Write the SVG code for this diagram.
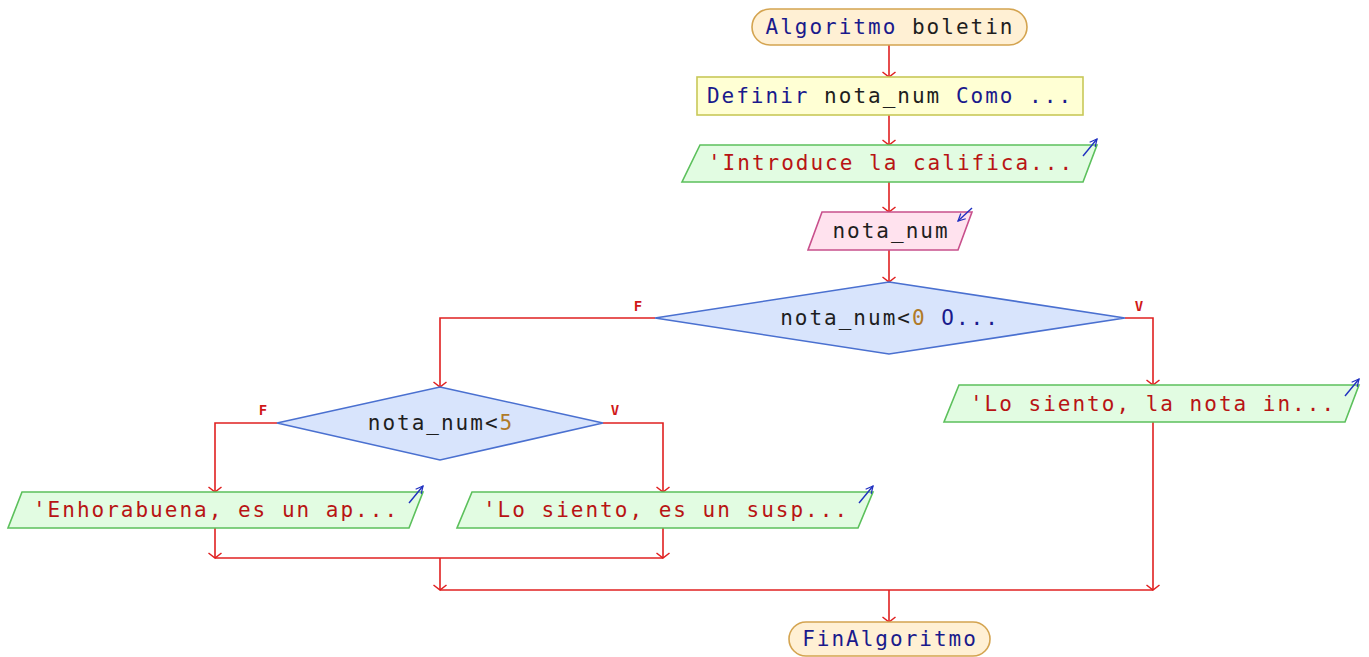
<svg xmlns="http://www.w3.org/2000/svg" width="1369" height="657" viewBox="0 0 1369 657">
  <defs>
    <marker id="arr" viewBox="0 0 12 14" refX="10" refY="7" markerWidth="12" markerHeight="14" markerUnits="userSpaceOnUse" orient="auto">
      <path d="M5,0.5 L10,7 L5,13.5" fill="none" stroke="#e02020" stroke-width="1.5"/>
    </marker>
    <marker id="io" viewBox="0 0 10 10" refX="9" refY="5" markerWidth="9" markerHeight="9" markerUnits="userSpaceOnUse" orient="auto">
      <path d="M1,1 L9,5 L1,9" fill="none" stroke="#2030c0" stroke-width="1.4"/>
    </marker>
  </defs>
  <style>
    text { font-family: "DejaVu Sans Mono", "Liberation Mono", monospace; font-size: 21px; letter-spacing: 2px; text-anchor: middle; }
    .kw { fill: #1a1a8c; }
    .id { fill: #1e1e1e; }
    .str { fill: #b81414; }
    .num { fill: #b07a28; }
    .lbl { font-size: 14px; letter-spacing: 0; fill: #d01818; font-weight: bold; }
    .term { fill: #fff0d4; stroke: #d4a450; stroke-width: 1.6; }
    .def { fill: #ffffd4; stroke: #c8c858; stroke-width: 1.6; }
    .out { fill: #e2fce2; stroke: #5cc05c; stroke-width: 1.6; }
    .inp { fill: #ffe2ee; stroke: #c8508c; stroke-width: 1.6; }
    .dec { fill: #d8e4fc; stroke: #4a70d0; stroke-width: 1.6; }
    .icon { fill: none; stroke: #2030c0; stroke-width: 1.4; marker-end: url(#io); }
    .wire { fill: none; stroke: #e02020; stroke-width: 1.6; }
    .go { marker-end: url(#arr); }
  </style>

  <rect width="1369" height="657" fill="#ffffff"/>

  <!-- connectors -->
  <g id="connectors">
    <path class="wire go" d="M889,45 V77"/>
    <path class="wire go" d="M889,115 V145"/>
    <path class="wire go" d="M889,182 V212"/>
    <path class="wire go" d="M889,250 V282"/>
    <path class="wire go" d="M655,318 H440 V387"/>
    <path class="wire go" d="M1125,318 H1153 V385"/>
    <path class="wire go" d="M277,423 H215 V492"/>
    <path class="wire go" d="M603,423 H663 V492"/>
    <path class="wire go" d="M215,528 V558"/>
    <path class="wire go" d="M663,528 V558"/>
    <path class="wire" d="M215,558 H663"/>
    <path class="wire go" d="M440,558 V590"/>
    <path class="wire go" d="M1153,422 V590"/>
    <path class="wire" d="M440,590 H1153"/>
    <path class="wire go" d="M889,590 V622"/>
    <text class="lbl" x="638" y="311">F</text>
    <text class="lbl" x="1139" y="311">V</text>
    <text class="lbl" x="263" y="415">F</text>
    <text class="lbl" x="615" y="415">V</text>
  </g>

  <!-- start -->
  <g id="start">
    <rect class="term" x="752" y="9" width="275" height="36" rx="18"/>
    <text x="890" y="34"><tspan class="kw">Algoritmo</tspan><tspan class="id"> boletin</tspan></text>
  </g>

  <!-- declaration -->
  <g id="definir">
    <rect class="def" x="697" y="77" width="386" height="38"/>
    <text x="890" y="103"><tspan class="kw">Definir</tspan><tspan class="id"> nota_num </tspan><tspan class="kw">Como ...</tspan></text>
  </g>

  <!-- prompt -->
  <g id="escribir1">
    <polygon class="out" points="700,145 1097,145 1083,182 682,182"/>
    <path class="icon" d="M1083,156 L1097,139"/>
    <text class="str" x="891" y="170">'Introduce la califica...</text>
  </g>

  <!-- read -->
  <g id="leer">
    <polygon class="inp" points="822,212 972,212 958,250 808,250"/>
    <path class="icon" d="M972,208 L958,221"/>
    <text class="id" x="891" y="238">nota_num</text>
  </g>

  <!-- first decision -->
  <g id="si1">
    <polygon class="dec" points="889,282 1125,318 889,354 655,318"/>
    <text x="890" y="325"><tspan class="id">nota_num&lt;</tspan><tspan class="num">0</tspan><tspan class="kw"> O...</tspan></text>
  </g>

  <!-- invalid grade -->
  <g id="escribir_invalida">
    <polygon class="out" points="959,385 1359,385 1345,422 944,422"/>
    <path class="icon" d="M1345,396 L1359,379"/>
    <text class="str" x="1153" y="411">'Lo siento, la nota in...</text>
  </g>

  <!-- second decision -->
  <g id="si2">
    <polygon class="dec" points="440,387 603,423 440,460 277,423"/>
    <text x="441" y="430"><tspan class="id">nota_num&lt;</tspan><tspan class="num">5</tspan></text>
  </g>

  <!-- pass -->
  <g id="escribir_aprobado">
    <polygon class="out" points="22,492 423,492 409,528 8,528"/>
    <path class="icon" d="M409,503 L423,486"/>
    <text class="str" x="216" y="517">'Enhorabuena, es un ap...</text>
  </g>

  <!-- fail -->
  <g id="escribir_suspenso">
    <polygon class="out" points="472,492 873,492 858,528 457,528"/>
    <path class="icon" d="M859,503 L873,486"/>
    <text class="str" x="666" y="517">'Lo siento, es un susp...</text>
  </g>

  <!-- end -->
  <g id="end">
    <rect class="term" x="789" y="622" width="201" height="34" rx="17"/>
    <text class="kw" x="890" y="646">FinAlgoritmo</text>
  </g>
</svg>
